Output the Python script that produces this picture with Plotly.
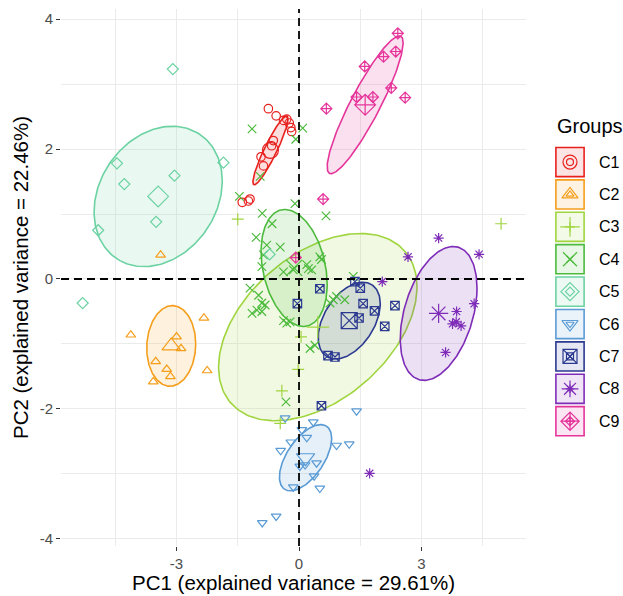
import numpy as np
import plotly.graph_objects as go

groups = ["C1", "C2", "C3", "C4", "C5", "C6", "C7", "C8", "C9"]
colors = ["#E7211E", "#F59E1B", "#A0D53F", "#4CBB3C", "#6BD2A2",
          "#5A9BD5", "#2B3990", "#7E2CB8", "#E5359A"]
symbols = ["circle-open", "triangle-up-open", "cross-thin-open", "x-thin-open",
           "diamond-open", "triangle-down-open", "square-x-open",
           "asterisk-open", "diamond-cross-open"]

# ---- individual scores (PC1, PC2) per group ----
c1_x = [-0.75, -0.56, -0.38, -0.30, -0.24, -0.20, -0.18, -0.63, -0.67, -0.93, -0.87, -1.39, -1.24, -1.20]
c1_y = [2.62, 2.51, 2.44, 2.46, 2.40, 2.33, 2.27, 2.13, 2.05, 1.88, 1.74, 1.18, 1.20, 1.23]

c2_x = [-2.33, -4.12, -3.00, -2.89, -3.51, -3.24, -3.15, -3.57, -2.25, -3.39]
c2_y = [-0.60, -0.86, -0.89, -1.07, -1.27, -1.39, -1.50, -1.58, -1.41, 0.37]

c3_x = [-1.50, 4.95, 0.05, -0.02, -0.42, -0.46]
c3_y = [0.92, 0.85, -0.89, -1.39, -1.72, -2.22]

c4_x = [-1.15, 0.09, -0.08, -0.95, -1.46, -0.10, -0.90, 0.66, -0.66, -1.05, -0.79, -0.46,
        0.51, -0.87, -0.91, 0.19, 0.31, 0.55, -0.38, -0.14, 0.23, -1.20, -0.99, -0.91,
        -0.83, -1.15, -1.03, -0.91, -0.38, -0.30, -0.22, 0.76, 0.84, 0.92, 1.12, 1.33,
        0.27, 0.39, -0.32]
c4_y = [2.31, 2.32, 2.15, 1.58, 1.27, 1.16, 1.01, 0.97, 0.85, 0.64, 0.52, 0.49,
        0.34, 0.37, 0.19, 0.22, 0.14, 0.30, 0.11, 0.14, 0.16, -0.14, -0.25, -0.37,
        -0.40, -0.53, -0.48, -0.50, -0.64, -0.68, -0.66, -0.37, -0.32, -0.27, -0.32, 0.04,
        -1.07, -1.02, -1.89]

c5_x = [-3.09, -4.46, -1.85, -3.05, -4.28, -3.50, -4.92, -0.72, -5.30]
c5_y = [3.23, 1.78, 1.79, 1.59, 1.46, 0.88, 0.75, 0.38, -0.37]

c6_x = [1.41, -0.34, 0.35, 0.07, 0.19, -0.20, 0.92, 1.23, -0.45, 0.43, 0.02, 0.15,
        0.37, -0.14, 0.51, -0.56, -0.90]
c6_y = [-2.03, -2.14, -2.20, -2.32, -2.44, -2.51, -2.56, -2.54, -2.64, -2.83, -2.88, -2.86,
        -3.03, -3.20, -3.22, -3.65, -3.75]

c7_x = [1.37, 1.50, 0.51, -0.04, 1.57, 1.85, 2.35, 1.47, 2.10, 0.71, 0.88, 0.55]
c7_y = [-0.04, -0.14, -0.15, -0.38, -0.38, -0.49, -0.41, -0.60, -0.73, -1.18, -1.20, -1.95]

c8_x = [3.42, 4.41, 2.67, 2.04, 4.29, 3.86, 3.76, 3.85, 3.97, 3.59, 1.73]
c8_y = [0.63, 0.38, 0.34, -0.04, -0.38, -0.50, -0.69, -0.66, -0.72, -1.13, -2.99]

c9_x = [2.42, 2.07, 2.37, 1.61, 1.41, 1.81, 2.26, 2.60, 0.67, 0.59, -0.08]
c9_y = [3.78, 3.42, 3.50, 3.27, 2.80, 2.80, 2.94, 2.79, 2.62, 1.23, 0.33]

group_x = [c1_x, c2_x, c3_x, c4_x, c5_x, c6_x, c7_x, c8_x, c9_x]
group_y = [c1_y, c2_y, c3_y, c4_y, c5_y, c6_y, c7_y, c8_y, c9_y]

# ---- confidence ellipses: centre (group mean), half-extents, correlation ----
ell_cx = [-0.70, -3.13, 0.46, -0.12, -3.45, 0.16, 1.23, 3.42, 1.62]
ell_cy = [1.98, -1.03, -0.74, 0.17, 1.27, -2.75, -0.64, -0.53, 2.68]
ell_ex = [0.43, 0.60, 2.43, 0.81, 1.57, 0.64, 0.76, 0.94, 0.93]
ell_ey = [0.53, 0.62, 1.44, 0.90, 1.08, 0.51, 0.59, 1.03, 1.06]
ell_rho = [0.92, 0.05, 0.43, -0.28, 0.22, 0.58, 0.44, 0.38, 0.90]

x_title = "PC1 (explained variance = 29.61%)"
y_title = "PC2 (explained variance = 22.46%)"
legend_title = "Groups"


def rgba(hex_color, a):
    h = hex_color.lstrip("#")
    r, g, b = int(h[0:2], 16), int(h[2:4], 16), int(h[4:6], 16)
    return f"rgba({r},{g},{b},{a})"


FONT = "Liberation Sans, Arial, Helvetica, sans-serif"
fig = go.Figure()

t = np.linspace(0, 2 * np.pi, 200)
for i, g in enumerate(groups):
    ex = ell_cx[i] + ell_ex[i] * np.cos(t)
    ey = ell_cy[i] + ell_ey[i] * (ell_rho[i] * np.cos(t) + np.sqrt(1 - ell_rho[i] ** 2) * np.sin(t))
    fig.add_trace(go.Scatter(x=ex, y=ey, mode="lines", fill="toself",
                             fillcolor=rgba(colors[i], 0.15),
                             line=dict(color=colors[i], width=1.6),
                             hoverinfo="skip", showlegend=False))

for i, g in enumerate(groups):
    fig.add_trace(go.Scatter(x=group_x[i], y=group_y[i], mode="markers", name=g,
                             marker=dict(symbol=symbols[i], size=8.5, color=colors[i],
                                         line=dict(width=1.2, color=colors[i])),
                             showlegend=False))

for i, g in enumerate(groups):
    fig.add_trace(go.Scatter(x=[ell_cx[i]], y=[ell_cy[i]], mode="markers",
                             marker=dict(symbol=symbols[i], size=16, color=colors[i],
                                         line=dict(width=1.2, color=colors[i])),
                             showlegend=False, hoverinfo="skip"))

# ---- custom legend (ggplot-like boxed keys) on an overlay axis ----
idx = list(range(len(groups)))
fig.add_trace(go.Scatter(x=[0] * len(groups), y=idx, mode="markers", xaxis="x2", yaxis="y2",
                         marker=dict(symbol=symbols, size=7, color=colors,
                                     line=dict(width=1.2, color=colors)),
                         showlegend=False, hoverinfo="skip"))
fig.add_trace(go.Scatter(x=[0] * len(groups), y=idx, mode="markers", xaxis="x2", yaxis="y2",
                         marker=dict(symbol=symbols, size=14, color=colors,
                                     line=dict(width=1.2, color=colors)),
                         showlegend=False, hoverinfo="skip"))

shapes = []
annotations = []
for i, g in enumerate(groups):
    shapes.append(dict(type="rect", xref="x2", yref="y2", x0=-0.47, x1=0.47,
                       y0=i - 0.45, y1=i + 0.45, line=dict(color=colors[i], width=1.6),
                       fillcolor=rgba(colors[i], 0.12), layer="below"))
    annotations.append(dict(text=g, xref="paper", yref="y2", x=0.9537, y=i,
                            xanchor="left", yanchor="middle", showarrow=False,
                            font=dict(family=FONT, size=16, color="#000000")))

shapes.append(dict(type="line", xref="x", yref="y domain", x0=0, x1=0, y0=0, y1=1,
                   line=dict(color="black", width=1.8, dash="8px,5px"), layer="above"))
shapes.append(dict(type="line", xref="x domain", yref="y", x0=0, x1=1, y0=0, y1=0,
                   line=dict(color="black", width=1.8, dash="8px,5px"), layer="above"))

annotations.append(dict(text=legend_title, xref="paper", yref="paper", x=0.879, y=0.782,
                        xanchor="left", yanchor="middle", showarrow=False,
                        font=dict(family=FONT, size=20, color="#000000")))
annotations.append(dict(text=x_title, xref="paper", yref="paper", x=0.4137, y=-0.0689,
                        xanchor="center", yanchor="middle", showarrow=False,
                        font=dict(family=FONT, size=20.5, color="#000000")))
annotations.append(dict(text=y_title, xref="paper", yref="paper", x=-0.072, y=0.5,
                        xanchor="center", yanchor="middle", showarrow=False, textangle=-90,
                        font=dict(family=FONT, size=20.5, color="#000000")))

grid = "#EBEBEB"
fig.update_layout(
    width=623, height=596,
    margin=dict(l=61, r=0, t=9, b=50),
    paper_bgcolor="white", plot_bgcolor="white",
    showlegend=False,
    shapes=shapes, annotations=annotations,
    xaxis=dict(domain=[0, 0.8274], range=[-5.83, 5.56], tickvals=[-3, 0, 3],
               ticktext=["-3", "0", "3"],
               showgrid=True, gridcolor=grid, gridwidth=1.1, zeroline=False,
               ticks="outside", ticklen=4, tickwidth=1.1, tickcolor="#333333",
               tickfont=dict(family=FONT, size=15, color="#4D4D4D"), showline=False,
               minor=dict(tickvals=[-4.5, -1.5, 1.5, 4.5], showgrid=True,
                          gridcolor=grid, gridwidth=0.7, ticks="")),
    yaxis=dict(range=[-4.108, 4.154], tickvals=[-4, -2, 0, 2, 4],
               ticktext=["-4", "-2", "0", "2", "4"],
               showgrid=True, gridcolor=grid, gridwidth=1.1, zeroline=False,
               ticks="outside", ticklen=4, tickwidth=1.1, tickcolor="#333333",
               tickfont=dict(family=FONT, size=15, color="#4D4D4D"), showline=False,
               minor=dict(tickvals=[-3, -1, 1, 3], showgrid=True,
                          gridcolor=grid, gridwidth=0.7, ticks="")),
    xaxis2=dict(domain=[0.879, 0.9324], range=[-0.5, 0.5], visible=False,
                anchor="y2", fixedrange=True),
    yaxis2=dict(domain=[0.2022, 0.7452], range=[8.5, -0.5], visible=False,
                anchor="x2", fixedrange=True),
)

fig.write_html("out.html",
               config={"displayModeBar": False},
               post_script="document.body.style.margin='0';"
                           "document.body.style.overflow='hidden';")
